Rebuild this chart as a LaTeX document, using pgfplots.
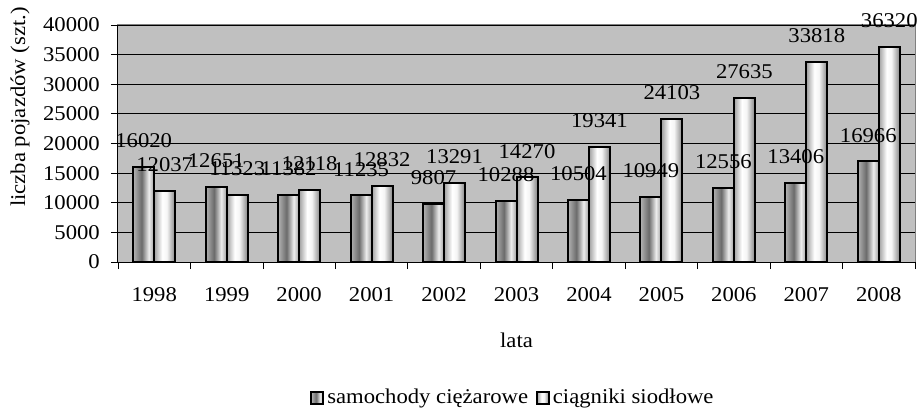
\documentclass[border=0pt]{standalone}
\usepackage{pgfplots}
\pgfplotsset{compat=1.18}
\usepackage{fontspec}
\setmainfont{Liberation Serif}[FakeStretch=1.08]
\definecolor{plotbg}{RGB}{192,192,192}
\pgfdeclarehorizontalshading{shA}{100bp}{color(0bp)=(black!30); color(25bp)=(black!30); color(45bp)=(black!58); color(62bp)=(black!7); color(75bp)=(black!38); color(100bp)=(black!38)}
\pgfdeclarehorizontalshading{shB}{100bp}{color(0bp)=(black!38); color(25bp)=(black!38); color(44bp)=(white); color(55bp)=(black!4); color(75bp)=(black!48); color(100bp)=(black!48)}
\newcommand{\barA}[2]{\addplot[ybar, bar width=21pt, bar shift=-10.5pt, draw=black, line width=2pt, shading=shA, forget plot] coordinates {(#1,#2)};}
\newcommand{\barB}[2]{\addplot[ybar, bar width=21pt, bar shift=10.5pt, draw=black, line width=2pt, shading=shB, forget plot] coordinates {(#1,#2)};}
\begin{document}
\fontsize{21}{24}\selectfont
\begin{tikzpicture}
\begin{axis}[
  at={(0pt,0pt)}, anchor=south west,
  scale only axis, width=797pt, height=237pt,
  xmin=-0.5, xmax=10.5, ymin=0, ymax=40000,
  clip=false,
  axis background/.style={fill=plotbg, draw=black!50, line width=1pt},
  axis lines=left, axis line style={-, black, line width=1pt},
  ytick={0,5000,...,40000},
  ymajorgrids, grid style={black, line width=0.8pt},
  tick align=outside, major tick length=7pt, tick style={black, line width=0.8pt},
  xtick={-0.5,0.5,...,10.5}, xticklabels={},
  extra x ticks={0,1,2,3,4,5,6,7,8,9,10},
  extra x tick labels={1998,1999,2000,2001,2002,2003,2004,2005,2006,2007,2008},
  extra x tick style={major tick length=0pt, xticklabel style={yshift=-18pt}},
  yticklabel style={xshift=-4pt},
  scaled y ticks=false,
  /pgf/number format/1000 sep={},
  /pgf/number format/assume math mode=true,
  xlabel={lata}, ylabel={liczba pojazdów (szt.)},
  every axis x label/.style={at={(axis description cs:0.5,0)}, yshift=-78pt, anchor=center},
  every axis y label/.style={at={(axis description cs:-0.123,0.654)}, rotate=90, anchor=center},
  legend columns=2,
  legend style={at={(axis description cs:0.4956,0)}, yshift=-136pt, anchor=center, draw=none, fill=none,
    /tikz/every odd column/.append style={column sep=1pt},
    /tikz/every even column/.append style={column sep=6pt}},
  legend image code/.code={\draw[#1, line width=1.8pt] (0pt,-6pt) rectangle (12pt,6pt);},
]
\addlegendimage{draw=black, shading=shA}
\addlegendimage{draw=black, shading=shB}
\barA{0}{16020}\barA{1}{12651}\barA{2}{11382}\barA{3}{11235}\barA{4}{9807}\barA{5}{10288}
\barA{6}{10504}\barA{7}{10949}\barA{8}{12556}\barA{9}{13406}\barA{10}{16966}
\barB{0}{12037}\barB{1}{11323}\barB{2}{12118}\barB{3}{12832}\barB{4}{13291}\barB{5}{14270}
\barB{6}{19341}\barB{7}{24103}\barB{8}{27635}\barB{9}{33818}\barB{10}{36320}
\addplot[ybar, bar width=21pt, bar shift=-10.5pt, draw=none, fill=none, forget plot,
  nodes near coords, nodes near coords style={anchor=south, inner sep=0pt, xshift=-10.5pt, yshift=19pt, text=black}]
  coordinates {(0,16020) (1,12651) (2,11382) (3,11235) (4,9807) (5,10288) (6,10504) (7,10949) (8,12556) (9,13406) (10,16966)};
\addplot[ybar, bar width=21pt, bar shift=10.5pt, draw=none, fill=none, forget plot,
  nodes near coords, nodes near coords style={anchor=south, inner sep=0pt, xshift=10.5pt, yshift=19pt, text=black}]
  coordinates {(0,12037) (1,11323) (2,12118) (3,12832) (4,13291) (5,14270) (6,19341) (7,24103) (8,27635) (9,33818) (10,36320)};
\legend{samochody ciężarowe, ciągniki siodłowe}
\end{axis}
\pgfresetboundingbox
\path[use as bounding box] (-118pt,-150pt) rectangle (799pt,262pt);
\end{tikzpicture}
\end{document}
